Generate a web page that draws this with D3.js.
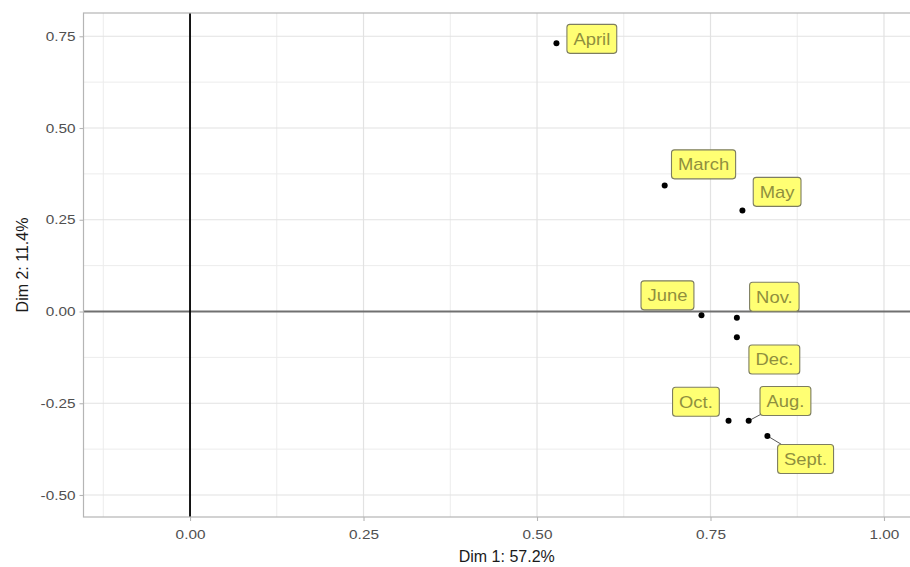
<!DOCTYPE html>
<html><head><meta charset="utf-8">
<script src="https://cdn.jsdelivr.net/npm/d3@7"></script>
<style>body{margin:0;background:#fff} text{font-family:"Liberation Sans",Arial,sans-serif}</style>
</head><body><svg id="c" width="910" height="567"></svg>
<script>
// ---- data ----
const months    = ["April","March","May","June","Nov.","Dec.","Oct.","Aug.","Sept."];
const dim1      = [0.528, 0.684, 0.796, 0.737, 0.788, 0.788, 0.776, 0.805, 0.832];
const dim2      = [0.731, 0.343, 0.275, -0.010, -0.017, -0.070, -0.298, -0.298, -0.339];
// repelled label anchor positions (data units)
const labelDim1 = [0.579, 0.740, 0.846, 0.688, 0.842, 0.842, 0.729, 0.858, 0.887];
const labelDim2 = [0.743, 0.401, 0.326, 0.044, 0.040, -0.131, -0.246, -0.244, -0.402];
// labels whose leader segment is visible
const segmentLabels = ["Aug.","Sept."];
const xTicks = [0, 0.25, 0.5, 0.75, 1];
const yTicks = [-0.5, -0.25, 0, 0.25, 0.5, 0.75];
const xMinor = [-0.125, 0.125, 0.375, 0.625, 0.875];
const yMinor = [-0.375, -0.125, 0.125, 0.375, 0.625];
const xTitle = "Dim 1: 57.2%";
const yTitle = "Dim 2: 11.4%";

// ---- layout ----
const L = 83.5, R = 930, T = 13, B = 517;
const x = d3.scaleLinear().domain([-0.1535, 1.0663]).range([L, R]);
const y = d3.scaleLinear().domain([-0.56, 0.8134]).range([B, T]);
const fmt = d3.formatLocale({decimal:".", thousands:",", grouping:[3], currency:["",""], minus:"-"}).format(".2f");
const SX = 1.18;

const svg = d3.select("#c");
svg.append("rect").attr("width",910).attr("height",567).attr("fill","#fff");

svg.append("defs").append("clipPath").attr("id","pc")
  .append("rect").attr("x",L).attr("y",T).attr("width",R-L).attr("height",B-T);

const panel = svg.append("g").attr("clip-path","url(#pc)");
// grid
panel.selectAll(".gxm").data(xMinor).join("line")
  .attr("x1",d=>x(d)).attr("x2",d=>x(d)).attr("y1",T).attr("y2",B)
  .attr("stroke","#ececec").attr("stroke-width",1);
panel.selectAll(".gym").data(yMinor).join("line")
  .attr("y1",d=>y(d)).attr("y2",d=>y(d)).attr("x1",L).attr("x2",R)
  .attr("stroke","#ececec").attr("stroke-width",1);
panel.selectAll(".gx").data(xTicks).join("line")
  .attr("x1",d=>x(d)).attr("x2",d=>x(d)).attr("y1",T).attr("y2",B)
  .attr("stroke","#e2e2e2").attr("stroke-width",1.2);
panel.selectAll(".gy").data(yTicks).join("line")
  .attr("y1",d=>y(d)).attr("y2",d=>y(d)).attr("x1",L).attr("x2",R)
  .attr("stroke","#e2e2e2").attr("stroke-width",1.2);

// reference lines
panel.append("line").attr("x1",L).attr("x2",R).attr("y1",y(0)).attr("y2",y(0))
  .attr("stroke","#707070").attr("stroke-width",2.2);
panel.append("line").attr("x1",x(0)).attr("x2",x(0)).attr("y1",T).attr("y2",B)
  .attr("stroke","#000").attr("stroke-width",1.8);

// panel border
svg.append("rect").attr("x",L).attr("y",T).attr("width",R-L).attr("height",B-T)
  .attr("fill","none").attr("stroke","#b5b5b5").attr("stroke-width",1.2);

// axes
const gx = svg.append("g").attr("transform",`translate(0,${B})`)
  .call(d3.axisBottom(x).tickValues(xTicks).tickFormat(fmt).tickSize(4).tickPadding(4));
const gy = svg.append("g").attr("transform",`translate(${L},0)`)
  .call(d3.axisLeft(y).tickValues(yTicks).tickFormat(fmt).tickSize(4).tickPadding(4));
[gx,gy].forEach(g=>{
  g.select(".domain").remove();
  g.selectAll(".tick line").attr("stroke","#b5b5b5").attr("stroke-width",1.1);
  g.selectAll(".tick text").attr("fill","#505050").attr("font-size",13)
    .style("font-family",'"Liberation Sans",Arial,sans-serif');
});
gx.selectAll(".tick text").attr("transform",`scale(${SX},1)`).attr("y",13).attr("dy","0.71em")
  .attr("x",0);
gy.selectAll(".tick text").each(function(){
  const t=d3.select(this); const xx=+t.attr("x");
  t.attr("x",xx/SX).attr("transform",`scale(${SX},1)`);
});

// titles
svg.append("text").attr("x",(L+R)/2).attr("y",562).attr("text-anchor","middle")
  .attr("font-size",16).attr("fill","#1a1a1a").text(xTitle);
svg.append("text").attr("transform",`translate(28,${(T+B)/2}) rotate(-90)`)
  .attr("text-anchor","middle").attr("font-size",16).attr("fill","#1a1a1a").text(yTitle);

// labels (segments, boxes)
const idx = d3.range(months.length);
const pad = 6.5, BH = 29, FS = 16, LSX = 1.15;
const labG = svg.append("g");
idx.forEach(i=>{
  const px=x(dim1[i]), py=y(dim2[i]);
  const cx=x(labelDim1[i]), cy=y(labelDim2[i]);
  const g = labG.append("g");
  const tt = g.append("text").attr("font-size",FS).text(months[i]);
  const tw = tt.node().getComputedTextLength()*LSX;
  const bw = tw + 2*pad;
  const x0=cx-bw/2, x1=cx+bw/2, y0=cy-BH/2, y1=cy+BH/2;
  if(segmentLabels.includes(months[i])){
    const dx=cx-px, dy=cy-py;
    let t=1;
    if(dx!==0){ const tx=((dx>0?x0:x1)-px)/dx; const yy=py+tx*dy; if(tx>0&&yy>=y0-0.5&&yy<=y1+0.5) t=Math.min(t,tx); }
    if(dy!==0){ const ty=((dy>0?y0:y1)-py)/dy; const xx=px+ty*dx; if(ty>0&&xx>=x0-0.5&&xx<=x1+0.5) t=Math.min(t,ty); }
    g.insert("line","text").attr("x1",px).attr("y1",py).attr("x2",px+t*dx).attr("y2",py+t*dy)
      .attr("stroke","#555").attr("stroke-width",1);
  }
  g.insert("rect","text").attr("x",x0).attr("y",y0).attr("width",bw).attr("height",BH)
    .attr("rx",3).attr("fill","#ffff73").attr("stroke","#7d7d60").attr("stroke-width",1.1);
  tt.attr("text-anchor","middle").attr("fill","#8f8f3e")
    .attr("transform",`translate(${cx},${cy+FS*0.36}) scale(${LSX},1)`);
});

// points
svg.append("g").selectAll("circle").data(idx).join("circle")
  .attr("cx",i=>x(dim1[i])).attr("cy",i=>y(dim2[i])).attr("r",3).attr("fill","#000");
</script></body></html>
